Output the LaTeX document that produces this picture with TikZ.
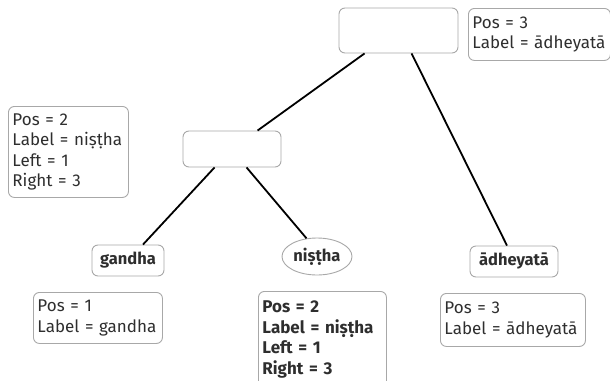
\documentclass[tikz,border=0pt]{standalone}
\usepackage{fontspec}
\setmainfont{Fira Sans}
\usetikzlibrary{shapes.geometric}
\definecolor{bordergray}{HTML}{A8A8A8}
\definecolor{txt}{HTML}{2E2E2E}
\newcommand{\lines}[1]{\begin{tabular}{@{}l@{}}#1\end{tabular}}
\tikzset{
  box/.style={draw=bordergray, rounded corners=6pt, line width=0.9pt, fill=white, inner sep=0pt},
  info/.style={box, align=left, anchor=north west, inner sep=4pt, text=txt,
    font=\fontsize{17}{20.5}\selectfont},
  lbl/.style={box, text=txt, font=\bfseries\fontsize{16.5}{18}\selectfont},
  conn/.style={line width=1.8pt, black}
}
\begin{document}
\begin{tikzpicture}[x=1pt,y=-1pt]
\useasboundingbox (0,0) rectangle (610,380);
% internal nodes
\node[box, minimum width=119pt, minimum height=45pt] (root) at (398.5,30.5) {};
\node[box, minimum width=98pt, minimum height=36pt] (mid) at (232,149) {};
% leaves
\node[lbl, minimum width=72pt, minimum height=31pt] (gandha) at (128,260.5) {gandha};
\node[box, ellipse, text=txt, font=\bfseries\fontsize{16.5}{18}\selectfont, minimum width=70pt, minimum height=37pt] (nistha) at (317,256.5) {niṣṭha};
\node[lbl, minimum width=88pt, minimum height=31pt] (adh) at (514,261.5) {ādheyatā};
% info boxes
\node[info, text width=134pt, minimum height=52pt] (rootinfo) at (468,8) {\lines{Pos = 3\\Label = ādheyatā}};
\node[info, text width=112pt, minimum height=91pt] (midinfo) at (8,106) {\lines{Pos = 2\\Label = niṣṭha\\Left = 1\\Right = 3}};
\node[info, text width=121pt, minimum height=51pt] (ginfo) at (33,292) {\lines{Pos = 1\\Label = gandha}};
\node[info, text width=120pt, minimum height=96pt, font=\bfseries\fontsize{17}{20.5}\selectfont] (ninfo) at (258,291) {\lines{Pos = 2\\Label = niṣṭha\\Left = 1\\Right = 3}};
\node[info, text width=137pt, minimum height=53pt] (ainfo) at (440,293) {\lines{Pos = 3\\Label = ādheyatā}};
% connectors
\draw[conn] ([xshift=26pt]root.south west) -- ([xshift=75pt]mid.north west);
\draw[conn] ([xshift=73pt]root.south west) -- ([xshift=-7pt]adh.north);
\draw[conn] ([xshift=32pt]mid.south west) -- ([xshift=15pt]gandha.north);
\draw[conn] ([xshift=64pt]mid.south west) -- (nistha.120);
\end{tikzpicture}
\end{document}
